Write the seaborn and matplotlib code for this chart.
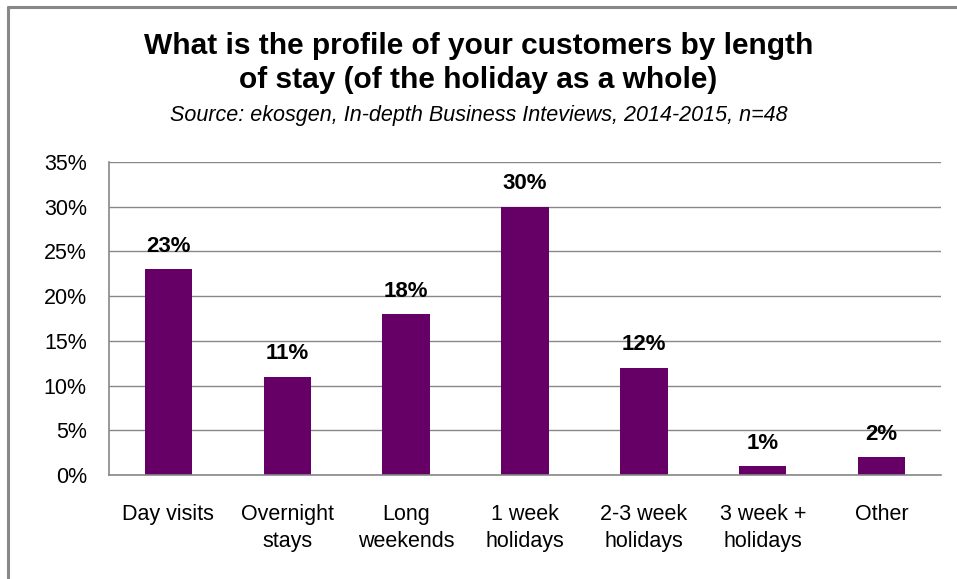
import matplotlib
matplotlib.use("Agg")
import matplotlib.pyplot as plt
import seaborn as sns
import pandas as pd
from matplotlib.lines import Line2D

categories = ["Day visits", "Overnight\nstays", "Long\nweekends", "1 week\nholidays",
              "2-3 week\nholidays", "3 week +\nholidays", "Other"]
shares = [23, 11, 18, 30, 12, 1, 2]
y_ticks = [0, 5, 10, 15, 20, 25, 30, 35]

title = "What is the profile of your customers by length\nof stay (of the holiday as a whole)"
subtitle = "Source: ekosgen, In-depth Business Inteviews, 2014-2015, n=48"

sns.set_theme(style="white")
plt.rcParams["font.family"] = ["Liberation Sans", "DejaVu Sans"]
plt.rcParams["text.color"] = "black"
plt.rcParams["xtick.labelcolor"] = "black"
plt.rcParams["ytick.labelcolor"] = "black"

bar_color = "#660066"
grid_color = "#888888"

df = pd.DataFrame({"category": categories, "share": shares})

fig = plt.figure(figsize=(9.57, 5.79), dpi=100)
ax = fig.add_axes([109 / 957, 1 - 475 / 579, (941 - 109) / 957, (475 - 162) / 579])

sns.barplot(data=df, x="category", y="share", color=bar_color, width=0.40,
            saturation=1, linewidth=0, ax=ax)

ax.set_ylim(0, 35)
ax.set_xlim(-0.5, len(categories) - 0.5)
ax.set_yticks(y_ticks)
ax.set_yticklabels([f"{t}%" for t in y_ticks], fontsize=15.5)
ax.set_xticks(range(len(categories)))
ax.set_xticklabels(categories, fontsize=15.5, linespacing=1.35)
ax.set_xticks([i - 0.5 for i in range(len(categories) + 1)], minor=True)
ax.tick_params(axis="x", which="major", length=0, pad=21)
ax.tick_params(axis="x", which="minor", length=7, width=1, color=grid_color, direction="out")
ax.tick_params(axis="y", length=8, width=1, color=grid_color, direction="out", pad=8)
ax.set_xlabel("")
ax.set_ylabel("")

ax.yaxis.grid(True, color=grid_color, linewidth=1)
ax.set_axisbelow(True)
for side in ["top", "right"]:
    ax.spines[side].set_visible(False)
for side in ["left", "bottom"]:
    ax.spines[side].set_color(grid_color)
    ax.spines[side].set_linewidth(1.2)

for i, v in enumerate(shares):
    ax.annotate(f"{v}%", (i, v), xytext=(0, 9), textcoords="offset points",
                ha="center", va="bottom", fontsize=16, fontweight="bold", color="black")

fig.text(0.5, 1 - 63 / 579, title, ha="center", va="center", fontsize=21.5,
         fontweight="bold", linespacing=1.25)
fig.text(0.5, 1 - 115 / 579, subtitle, ha="center", va="center", fontsize=15.5,
         style="italic")

# outer frame on the left and top edges
fig.add_artist(Line2D([8 / 957, 8 / 957], [0, 1 - 7 / 579], transform=fig.transFigure,
                      color=grid_color, linewidth=2.2))
fig.add_artist(Line2D([8 / 957, 1], [1 - 7 / 579, 1 - 7 / 579], transform=fig.transFigure,
                      color=grid_color, linewidth=2.2))

fig.savefig("out.png", dpi=100)
